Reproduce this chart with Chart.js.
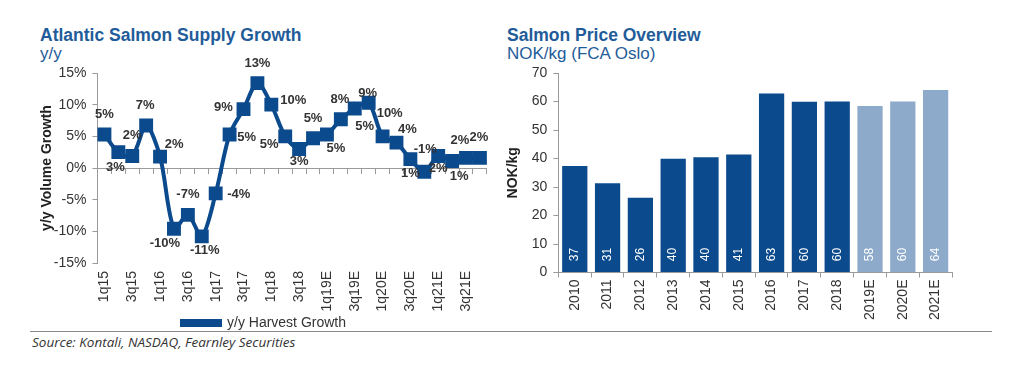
<!DOCTYPE html>
<html>
<head>
<meta charset="utf-8">
<script src="https://cdn.jsdelivr.net/npm/chart.js@4.4.0/dist/chart.umd.min.js"></script>
<style>
  body { margin: 0; background: #fff; font-family: "Liberation Sans", Arial, sans-serif; }
  .wrap { position: relative; width: 1024px; height: 377px; }
  .box { position: absolute; }
  .ttl { position: absolute; color: #1f5c99; font-size: 17.5px; font-weight: bold; white-space: nowrap; }
  .sub { position: absolute; color: #1f5c99; font-size: 17px; white-space: nowrap; }
  .rule { position: absolute; left: 30px; top: 331px; width: 962px; height: 0; border-top: 1px solid #8a8a8a; }
  .src { position: absolute; left: 32px; top: 333px; font-family: "Open Sans", sans-serif; font-style: italic; font-size: 13.5px; color: #333; }
</style>
</head>
<body>
<div class="wrap">
  <div class="ttl" style="left:40px;top:25px">Atlantic Salmon Supply Growth</div>
  <div class="sub" style="left:40px;top:44px">y/y</div>
  <div class="ttl" style="left:507px;top:25px">Salmon Price Overview</div>
  <div class="sub" style="left:507px;top:44px">NOK/kg (FCA Oslo)</div>
  <div class="rule"></div>
  <div class="src">Source: Kontali, NASDAQ, Fearnley Securities</div>
  <div class="box" style="left:0;top:0;width:505px;height:340px"><canvas id="growth"></canvas></div>
  <div class="box" style="left:497px;top:0;width:470px;height:332px"><canvas id="price"></canvas></div>
</div>
<script>
// quarters 1q15 .. 4q21E
const quarters = ['1q15','2q15','3q15','4q15','1q16','2q16','3q16','4q16','1q17','2q17','3q17','4q17',
  '1q18','2q18','3q18','4q18','1q19E','2q19E','3q19E','4q19E','1q20E','2q20E','3q20E','4q20E',
  '1q21E','2q21E','3q21E','4q21E'];
const harvestGrowth = [5.3, 2.5, 1.9, 6.7, 1.8, -9.6, -7.4, -10.8, -4.0, 5.3, 9.3, 13.4,
  10.0, 5.0, 3.0, 4.7, 5.3, 7.7, 9.4, 10.3, 5.0, 4.0, 1.4, -0.6, 1.9, 1.1, 1.6, 1.6];

const years = ['2010','2011','2012','2013','2014','2015','2016','2017','2018','2019E','2020E','2021E'];
const prices = [37.4, 31.3, 26.2, 39.9, 40.4, 41.4, 62.8, 59.9, 60.0, 58.4, 60.0, 64.0];

// label offsets (dx, dy) around each point
const labelOffsets = [[0,-20],[-3,15],[0,-21],[-1,-20],[14,-12],[-9,15],[0,-20],[3,14],[23,1],[17,3],
  [-20,-2],[0,-20],[22,-4],[-16,8],[0,12],[0,-20],[9,14],[-1,-20],[13,-15],[21,11],[-18,-10],[11,-13],
  [0,14],[1,-22],[0,12],[7,15],[-6,-17],[-1,-20]];

const navy = '#0b4a8c';
const lightBlue = '#8eaacb';
const axisGrey = '#9a9a9a';
const tickFont = { family: 'Liberation Sans', size: 14 };

const pointLabels = {
  id: 'pointLabels',
  afterDatasetsDraw(chart) {
    const ctx = chart.ctx;
    const meta = chart.getDatasetMeta(0);
    ctx.save();
    ctx.font = 'bold 13px "Liberation Sans"';
    ctx.fillStyle = '#333';
    ctx.textAlign = 'center';
    ctx.textBaseline = 'middle';
    meta.data.forEach((pt, i) => {
      const off = labelOffsets[i];
      ctx.fillText(Math.round(harvestGrowth[i]) + '%', pt.x + off[0], pt.y + off[1]);
    });
    ctx.restore();
  }
};

// draws the square marker on top of the legend line
const legendMarker = {
  id: 'legendMarker',
  afterDraw(chart) {
    const hb = chart.legend && chart.legend.legendHitBoxes && chart.legend.legendHitBoxes[0];
    if (!hb) return;
    const ctx = chart.ctx;
    const cx = hb.left + 19, cy = hb.top + hb.height / 2;
    ctx.save();
    ctx.fillStyle = navy;
    ctx.fillRect(cx - 4, cy - 4, 8, 8);
    ctx.restore();
  }
};

new Chart(document.getElementById('growth'), {
  type: 'line',
  data: {
    labels: quarters,
    datasets: [{
      label: 'y/y Harvest Growth',
      data: harvestGrowth,
      borderColor: navy,
      backgroundColor: navy,
      borderWidth: 4,
      tension: 0.3,
      pointStyle: 'rect',
      pointRadius: 7,
      pointHoverRadius: 7
    }]
  },
  options: {
    responsive: true,
    maintainAspectRatio: false,
    animation: false,
    layout: { padding: { top: 73, left: 39, right: 16, bottom: 0 } },
    plugins: {
      legend: {
        position: 'bottom',
        labels: { boxWidth: 38, boxHeight: 4, color: '#333', font: { family: 'Liberation Sans', size: 14 }, padding: 3 }
      },
      tooltip: { enabled: false }
    },
    scales: {
      x: {
        offset: true,
        grid: { display: false, drawTicks: false },
        border: { display: false },
        afterFit: s => { s.height = 50; },
        ticks: {
          autoSkip: false, minRotation: 90, maxRotation: 90, color: '#333', font: tickFont, padding: 8,
          callback: (v, i) => (i % 2 === 0 ? quarters[i] : '')
        }
      },
      // zero line with small tick marks
      x0: {
        type: 'category',
        labels: quarters,
        position: { y: 0 },
        offset: true,
        afterFit: s => { s.height = 0; },
        grid: { drawOnChartArea: false, offset: true, tickLength: 5, color: axisGrey },
        border: { color: axisGrey },
        ticks: { display: false }
      },
      y: {
        min: -15, max: 15,
        grid: { drawOnChartArea: false, tickLength: 5, color: axisGrey },
        border: { color: axisGrey },
        ticks: { stepSize: 5, color: '#333', font: tickFont, padding: 6, callback: v => v + '%' },
        title: { display: true, text: 'y/y Volume Growth', color: '#222', font: { family: 'Liberation Sans', size: 14, weight: 'bold' }, padding: { top: 0, bottom: -8 } }
      }
    }
  },
  plugins: [pointLabels, legendMarker]
});

const barLabels = {
  id: 'barLabels',
  afterDatasetsDraw(chart) {
    const ctx = chart.ctx;
    const meta = chart.getDatasetMeta(0);
    const base = chart.scales.y.getPixelForValue(0);
    ctx.save();
    ctx.font = '12px "Liberation Sans"';
    ctx.fillStyle = '#fff';
    ctx.textAlign = 'center';
    ctx.textBaseline = 'middle';
    meta.data.forEach((bar, i) => {
      ctx.save();
      ctx.translate(bar.x, base - 18);
      ctx.rotate(-Math.PI / 2);
      ctx.fillText(String(Math.round(prices[i])), 0, 0);
      ctx.restore();
    });
    ctx.restore();
  }
};

new Chart(document.getElementById('price'), {
  type: 'bar',
  data: {
    labels: years,
    datasets: [{
      data: prices,
      backgroundColor: years.map(y => (y.endsWith('E') ? lightBlue : navy)),
      barPercentage: 0.77,
      categoryPercentage: 1
    }]
  },
  options: {
    responsive: true,
    maintainAspectRatio: false,
    animation: false,
    layout: { padding: { top: 73, left: 8, right: 15, bottom: 10 } },
    plugins: { legend: { display: false }, tooltip: { enabled: false } },
    scales: {
      x: {
        grid: { drawOnChartArea: false, offset: true, tickLength: 5, color: axisGrey },
        border: { color: axisGrey },
        ticks: { autoSkip: false, minRotation: 90, maxRotation: 90, color: '#333', font: tickFont, padding: 2 }
      },
      y: {
        min: 0, max: 70,
        grid: { drawOnChartArea: false, tickLength: 5, color: axisGrey },
        border: { color: axisGrey },
        ticks: { stepSize: 10, color: '#333', font: tickFont, padding: 6 },
        title: { display: true, text: 'NOK/kg', color: '#222', font: { family: 'Liberation Sans', size: 14, weight: 'bold' }, padding: { top: 0, bottom: 4 } }
      }
    }
  },
  plugins: [barLabels]
});
</script>
</body>
</html>
